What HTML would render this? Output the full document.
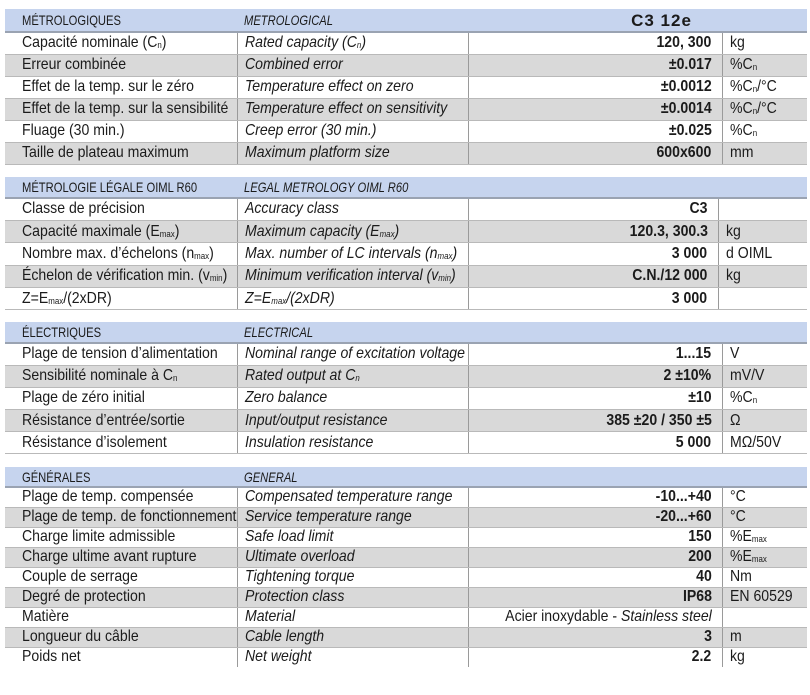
<!DOCTYPE html>
<html><head><meta charset="utf-8"><style>
*{margin:0;padding:0;box-sizing:border-box}
body{width:810px;height:695px;background:#fff;position:relative;overflow:hidden;font-family:"Liberation Sans",sans-serif;color:#1b1b1b;font-size:16px}
table{position:absolute;left:5px;width:802px;border-collapse:collapse;table-layout:fixed}
td{white-space:nowrap;overflow:visible;padding:0 0 0 17px;border-bottom:1px solid #b9b9b9;line-height:1}
td span{display:inline-block;transform:scaleX(.88);transform-origin:0 50%}
td.v span{transform-origin:100% 50%}
td.e{font-style:italic;padding-left:7px}
td.v{text-align:right;padding:0 10px 0 0;font-weight:bold}
td.u{padding-left:7px}
tr.h td{background:#c6d4ee;font-size:14px;border-bottom:2px solid #9aa3b2}
tr.h td span{transform:scaleX(.8)}
tr.g td{background:#d9d9d9}
tr.d td.e,tr.d td.v,tr.d td.u{border-left:1px solid #9a9a9a}
sub{font-size:9px;vertical-align:-1px}
tr.h td.big{font-weight:bold;font-size:17px;letter-spacing:1px;text-align:center;padding:0 0 0 48px}
tr.h td.big span{transform:none}
</style></head><body>
<table style="top:9px">
<colgroup><col style="width:232px"><col style="width:231px"><col style="width:254px"><col style="width:85px"></colgroup>
<tr class="h" style="height:23px"><td><span>MÉTROLOGIQUES</span></td><td class="e"><span>METROLOGICAL</span></td><td colspan="2" class="big"><span>C3 12e</span></td></tr>
<tr class="d" style="height:22px"><td><span>Capacité nominale (C<sub>n</sub>)</span></td><td class="e"><span>Rated capacity (C<sub>n</sub>)</span></td><td class="v"><span>120, 300</span></td><td class="u"><span>kg</span></td></tr>
<tr class="d g" style="height:22px"><td><span>Erreur combinée</span></td><td class="e"><span>Combined error</span></td><td class="v"><span>±0.017</span></td><td class="u"><span>%C<sub>n</sub></span></td></tr>
<tr class="d" style="height:22px"><td><span>Effet de la temp. sur le zéro</span></td><td class="e"><span>Temperature effect on zero</span></td><td class="v"><span>±0.0012</span></td><td class="u"><span>%C<sub>n</sub>/°C</span></td></tr>
<tr class="d g" style="height:22px"><td><span>Effet de la temp. sur la sensibilité</span></td><td class="e"><span>Temperature effect on sensitivity</span></td><td class="v"><span>±0.0014</span></td><td class="u"><span>%C<sub>n</sub>/°C</span></td></tr>
<tr class="d" style="height:22px"><td><span>Fluage (30 min.)</span></td><td class="e"><span>Creep error (30 min.)</span></td><td class="v"><span>±0.025</span></td><td class="u"><span>%C<sub>n</sub></span></td></tr>
<tr class="d g" style="height:22px"><td><span>Taille de plateau maximum</span></td><td class="e"><span>Maximum platform size</span></td><td class="v"><span>600x600</span></td><td class="u"><span>mm</span></td></tr>
</table>

<table style="top:177px">
<colgroup><col style="width:232px"><col style="width:231px"><col style="width:250px"><col style="width:89px"></colgroup>
<tr class="h" style="height:21px"><td><span>MÉTROLOGIE LÉGALE OIML R60</span></td><td class="e"><span>LEGAL METROLOGY OIML R60</span></td><td></td><td></td></tr>
<tr class="d" style="height:22.4px"><td><span>Classe de précision</span></td><td class="e"><span>Accuracy class</span></td><td class="v"><span>C3</span></td><td class="u"></td></tr>
<tr class="d g" style="height:22.4px"><td><span>Capacité maximale (E<sub>max</sub>)</span></td><td class="e"><span>Maximum capacity (E<sub>max</sub>)</span></td><td class="v"><span>120.3, 300.3</span></td><td class="u"><span>kg</span></td></tr>
<tr class="d" style="height:22.4px"><td><span>Nombre max. d’échelons (n<sub>max</sub>)</span></td><td class="e"><span>Max. number of LC intervals (n<sub>max</sub>)</span></td><td class="v"><span>3 000</span></td><td class="u"><span>d OIML</span></td></tr>
<tr class="d g" style="height:22.4px"><td><span>Échelon de vérification min. (v<sub>min</sub>)</span></td><td class="e"><span>Minimum verification interval (v<sub>min</sub>)</span></td><td class="v"><span>C.N./12 000</span></td><td class="u"><span>kg</span></td></tr>
<tr class="d" style="height:22.4px"><td><span>Z=E<sub>max</sub>/(2xDR)</span></td><td class="e"><span>Z=E<sub>max</sub>/(2xDR)</span></td><td class="v"><span>3 000</span></td><td class="u"></td></tr>
</table>

<table style="top:322px">
<colgroup><col style="width:232px"><col style="width:231px"><col style="width:254px"><col style="width:85px"></colgroup>
<tr class="h" style="height:21px"><td><span>ÉLECTRIQUES</span></td><td class="e"><span>ELECTRICAL</span></td><td></td><td></td></tr>
<tr class="d" style="height:22.2px"><td><span>Plage de tension d’alimentation</span></td><td class="e"><span>Nominal range of excitation voltage</span></td><td class="v"><span>1...15</span></td><td class="u"><span>V</span></td></tr>
<tr class="d g" style="height:22.2px"><td><span>Sensibilité nominale à C<sub>n</sub></span></td><td class="e"><span>Rated output at C<sub>n</sub></span></td><td class="v"><span>2 ±10%</span></td><td class="u"><span>mV/V</span></td></tr>
<tr class="d" style="height:22.2px"><td><span>Plage de zéro initial</span></td><td class="e"><span>Zero balance</span></td><td class="v"><span>±10</span></td><td class="u"><span>%C<sub>n</sub></span></td></tr>
<tr class="d g" style="height:22.2px"><td><span>Résistance d’entrée/sortie</span></td><td class="e"><span>Input/output resistance</span></td><td class="v"><span>385 ±20 / 350 ±5</span></td><td class="u"><span>Ω</span></td></tr>
<tr class="d" style="height:22.2px"><td><span>Résistance d’isolement</span></td><td class="e"><span>Insulation resistance</span></td><td class="v"><span>5 000</span></td><td class="u"><span>MΩ/50V</span></td></tr>
</table>

<table style="top:467px">
<colgroup><col style="width:232px"><col style="width:231px"><col style="width:254px"><col style="width:85px"></colgroup>
<tr class="h" style="height:20px"><td><span>GÉNÉRALES</span></td><td class="e"><span>GENERAL</span></td><td></td><td></td></tr>
<tr class="d" style="height:20px"><td><span>Plage de temp. compensée</span></td><td class="e"><span>Compensated temperature range</span></td><td class="v"><span>-10...+40</span></td><td class="u"><span>°C</span></td></tr>
<tr class="d g" style="height:20px"><td><span>Plage de temp. de fonctionnement</span></td><td class="e"><span>Service temperature range</span></td><td class="v"><span>-20...+60</span></td><td class="u"><span>°C</span></td></tr>
<tr class="d" style="height:20px"><td><span>Charge limite admissible</span></td><td class="e"><span>Safe load limit</span></td><td class="v"><span>150</span></td><td class="u"><span>%E<sub>max</sub></span></td></tr>
<tr class="d g" style="height:20px"><td><span>Charge ultime avant rupture</span></td><td class="e"><span>Ultimate overload</span></td><td class="v"><span>200</span></td><td class="u"><span>%E<sub>max</sub></span></td></tr>
<tr class="d" style="height:20px"><td><span>Couple de serrage</span></td><td class="e"><span>Tightening torque</span></td><td class="v"><span>40</span></td><td class="u"><span>Nm</span></td></tr>
<tr class="d g" style="height:20px"><td><span>Degré de protection</span></td><td class="e"><span>Protection class</span></td><td class="v"><span>IP68</span></td><td class="u"><span>EN 60529</span></td></tr>
<tr class="d" style="height:20px"><td><span>Matière</span></td><td class="e"><span>Material</span></td><td class="v" style="font-weight:normal"><span>Acier inoxydable - <i>Stainless steel</i></span></td><td class="u"></td></tr>
<tr class="d g" style="height:20px"><td><span>Longueur du câble</span></td><td class="e"><span>Cable length</span></td><td class="v"><span>3</span></td><td class="u"><span>m</span></td></tr>
<tr class="d" style="height:20px"><td style="border-bottom:none"><span>Poids net</span></td><td class="e" style="border-bottom:none"><span>Net weight</span></td><td class="v" style="border-bottom:none"><span>2.2</span></td><td class="u" style="border-bottom:none"><span>kg</span></td></tr>
</table>
</body></html>
